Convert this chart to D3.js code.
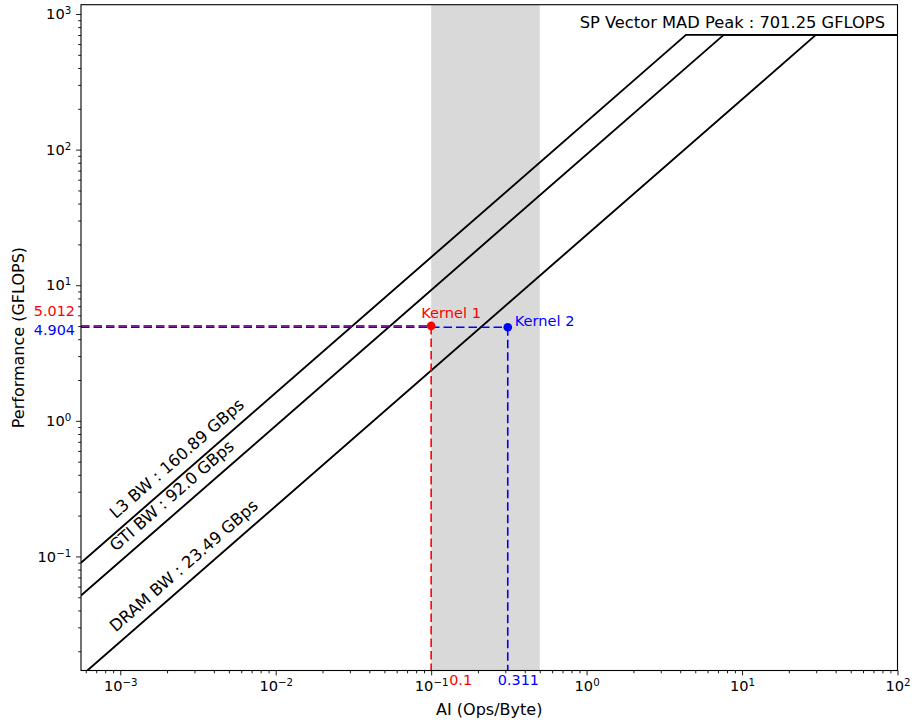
<!DOCTYPE html>
<html>
<head>
<meta charset="utf-8">
<script src="https://cdn.jsdelivr.net/npm/d3@7"></script>
<style>
  body { margin: 0; background: #fff; }
  svg { font-family: "DejaVu Sans", sans-serif; }
</style>
</head>
<body>
<svg width="914" height="722"></svg>
<script>
// roofline data
const ceilingNames = ['L3 BW', 'GTI BW', 'DRAM BW']
const ceilingBW = [160.89, 92.0, 23.49]
const peakName = 'SP Vector MAD Peak'
const peakPerf = 701.25

const kernelNames = ['Kernel 1', 'Kernel 2']
const kernelAI = [0.1, 0.311]
const kernelPerf = [5.012, 4.904]
const kernelColors = ['#ff0000', '#0000ff']

const bandAI = [0.1, 0.5]

const xTickExp = [-3, -2, -1, 0, 1, 2]
const yTickExp = [-1, 0, 1, 2, 3]

const svg = d3.select('svg')
const width = +svg.attr('width')
const height = +svg.attr('height')
const margin = { top: 4.7, right: 16.5, bottom: 51.5, left: 81 }

const xScale = d3.scaleLog()
  .domain([5.59e-4, 100])
  .range([margin.left, width - margin.right])

const yScale = d3.scaleLog()
  .domain([0.01442, 1171])
  .range([height - margin.bottom, margin.top])

const x0 = margin.left, x1 = width - margin.right
const y0 = height - margin.bottom, y1 = margin.top

svg.append('defs').append('clipPath').attr('id', 'plot')
  .append('rect')
  .attr('x', x0).attr('y', y1)
  .attr('width', x1 - x0).attr('height', y0 - y1)

const plot = svg.append('g').attr('clip-path', 'url(#plot)')

// shaded AI range
plot.append('rect')
  .attr('x', xScale(bandAI[0]))
  .attr('y', y1)
  .attr('width', xScale(bandAI[1]) - xScale(bandAI[0]))
  .attr('height', y0 - y1)
  .attr('fill', '#d9d9d9')

// rooflines
const [xmin, xmax] = xScale.domain()
const line = d3.line().x(d => xScale(d[0])).y(d => yScale(d[1]))

ceilingBW.forEach(bw => {
  const pts = [[xmin, bw * xmin], [peakPerf / bw, peakPerf], [xmax, peakPerf]]
  plot.append('path')
    .attr('d', line(pts))
    .attr('fill', 'none')
    .attr('stroke', '#000')
    .attr('stroke-width', 1.9)
})

// angle of bandwidth lines on screen
const angle = Math.atan2(yScale(1) - yScale(10), xScale(10) - xScale(1)) * 180 / Math.PI

ceilingNames.forEach((name, i) => {
  const ax = 1.03e-3
  svg.append('text')
    .attr('transform', `translate(${xScale(ax)},${yScale(ceilingBW[i] * ax)}) rotate(${-angle})`)
    .attr('y', -10)
    .attr('font-size', 16.3)
    .attr('fill', '#000')
    .text(name + ' : ' + ceilingBW[i].toFixed(ceilingBW[i] % 1 === 0 ? 1 : 2) + ' GBps')
})

svg.append('text')
  .attr('x', 885)
  .attr('y', 28)
  .attr('text-anchor', 'end')
  .attr('font-size', 16.3)
  .text(peakName + ' : ' + peakPerf + ' GFLOPS')

// kernels
kernelAI.forEach((ai, i) => {
  const c = kernelColors[i]
  const px = xScale(ai), py = yScale(kernelPerf[i])
  plot.append('line')
    .attr('x1', x0).attr('x2', px).attr('y1', py).attr('y2', py)
    .attr('stroke', c).attr('stroke-width', 1.6)
    .attr('stroke-dasharray', '8.5,4')
  plot.append('line')
    .attr('x1', px).attr('x2', px).attr('y1', py).attr('y2', y0)
    .attr('stroke', c).attr('stroke-width', 1.6)
    .attr('stroke-dasharray', '8.5,4')
})

kernelAI.forEach((ai, i) => {
  svg.append('circle')
    .attr('cx', xScale(ai)).attr('cy', yScale(kernelPerf[i]))
    .attr('r', 4.3)
    .attr('fill', kernelColors[i])
})

// kernel labels
const kLabelOff = [[-10, -8], [7, -1]]
kernelNames.forEach((name, i) => {
  svg.append('text')
    .attr('x', xScale(kernelAI[i]) + kLabelOff[i][0])
    .attr('y', yScale(kernelPerf[i]) + kLabelOff[i][1])
    .attr('font-size', 14.6)
    .attr('fill', kernelColors[i])
    .text(name)
})

// value labels on the axes
const perfLabelOff = [-14.5, 3]
kernelPerf.forEach((v, i) => {
  svg.append('text')
    .attr('x', 75)
    .attr('y', yScale(v) + perfLabelOff[i])
    .attr('text-anchor', 'end')
    .attr('dominant-baseline', 'central')
    .attr('font-size', 14.4)
    .attr('fill', kernelColors[i])
    .text(v)
})

const aiLabelOff = [18, -10]
kernelAI.forEach((v, i) => {
  svg.append('text')
    .attr('x', xScale(v) + aiLabelOff[i])
    .attr('y', 685)
    .attr('font-size', 14.4)
    .attr('fill', kernelColors[i])
    .text(v)
})

// axes
const supFormat = (sel, e) => {
  sel.text(null)
  sel.append('tspan').text('10')
  sel.append('tspan').attr('dy', '-0.5em').attr('font-size', '70%')
    .text(String(e).replace('-', '\u2212'))
}

const minorTicks = scale => {
  const [a, b] = scale.domain()
  const out = []
  for (let e = Math.floor(Math.log10(a)); e <= Math.ceil(Math.log10(b)); e++) {
    for (let m = 2; m <= 9; m++) {
      const v = m * Math.pow(10, e)
      if (v >= a && v <= b) out.push(v)
    }
  }
  return out
}

const xAxis = svg.append('g')
  .attr('transform', `translate(0,${y0})`)
  .call(d3.axisBottom(xScale).tickValues(xTickExp.map(e => Math.pow(10, e)))
    .tickSize(4.9).tickPadding(4.9).tickFormat(''))
xAxis.selectAll('.tick text').each(function (d, i) { supFormat(d3.select(this), xTickExp[i]) })

svg.append('g')
  .attr('transform', `translate(0,${y0})`)
  .call(d3.axisBottom(xScale).tickValues(minorTicks(xScale)).tickSize(2.8).tickFormat(''))

const yAxis = svg.append('g')
  .attr('transform', `translate(${x0},0)`)
  .call(d3.axisLeft(yScale).tickValues(yTickExp.map(e => Math.pow(10, e)))
    .tickSize(4.9).tickPadding(4.9).tickFormat(''))
yAxis.selectAll('.tick text').each(function (d, i) { supFormat(d3.select(this), yTickExp[i]) })

svg.append('g')
  .attr('transform', `translate(${x0},0)`)
  .call(d3.axisLeft(yScale).tickValues(minorTicks(yScale)).tickSize(2.8).tickFormat(''))

svg.selectAll('.domain').remove()
svg.selectAll('.tick text').attr('font-size', 14.6).attr('fill', '#000')
  .attr('font-family', '"DejaVu Sans", sans-serif')
svg.selectAll('.tick line').attr('stroke', '#000').attr('stroke-width', 0.9)

// frame
svg.append('rect')
  .attr('x', x0).attr('y', y1)
  .attr('width', x1 - x0).attr('height', y0 - y1)
  .attr('fill', 'none')
  .attr('stroke', '#000')
  .attr('stroke-width', 1.1)

svg.append('text')
  .attr('x', (x0 + x1) / 2)
  .attr('y', 715)
  .attr('text-anchor', 'middle')
  .attr('font-size', 16)
  .text('AI (Ops/Byte)')

svg.append('text')
  .attr('transform', `translate(23.5,${(y0 + y1) / 2}) rotate(-90)`)
  .attr('text-anchor', 'middle')
  .attr('font-size', 16)
  .text('Performance (GFLOPS)')
</script>
</body>
</html>
